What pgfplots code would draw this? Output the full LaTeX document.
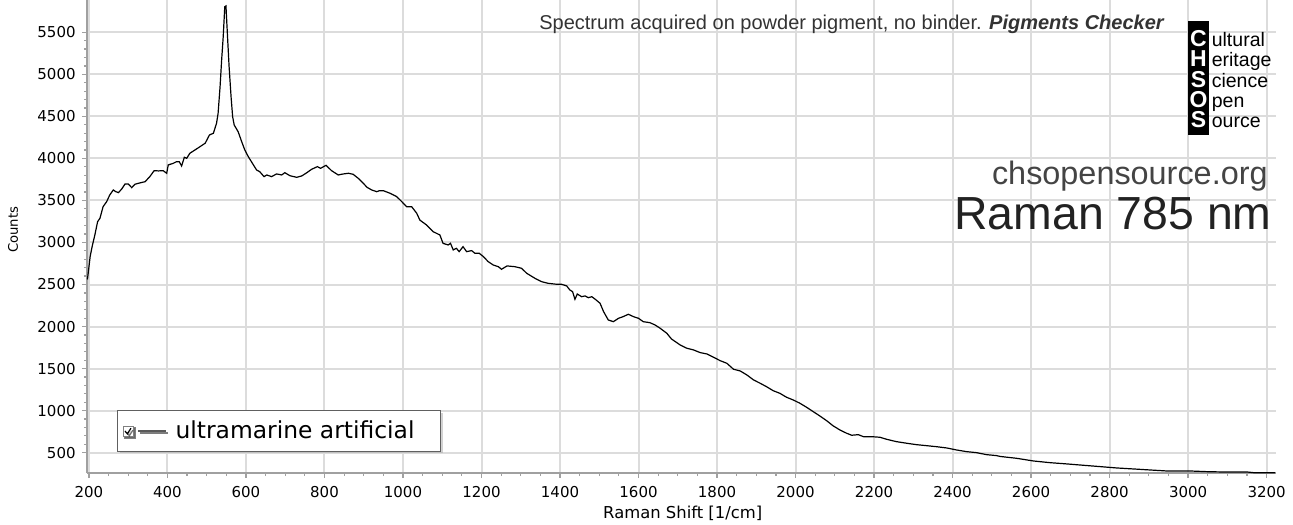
\documentclass[border=0pt]{standalone}
\usepackage{fontspec}
\setmainfont{DejaVu Sans}
\newfontfamily\arial{Liberation Sans}
\usepackage{pgfplots}
\pgfplotsset{compat=1.18}
\usetikzlibrary{shadows}
\definecolor{gridc}{HTML}{DCDCDC}
\definecolor{axc}{HTML}{A0A0A0}
\definecolor{txtA}{HTML}{333333}
\definecolor{txtB}{HTML}{444444}
\definecolor{txtC}{HTML}{222222}
\definecolor{legb}{HTML}{606060}

\pgfplotstableread{
x y
196 2560
197 2593
203 2831
208 2950
215 3089
222 3247
228 3288
236 3426
245 3485
253 3565
262 3625
268 3605
275 3593
283 3633
292 3696
300 3696
309 3652
317 3692
326 3704
343 3723
355 3783
366 3854
377 3851
389 3854
398 3823
402 3922
415 3942
423 3961
430 3961
436 3910
443 4013
449 4001
457 4061
470 4100
483 4140
496 4180
507 4279
517 4299
525 4418
529 4537
534 4853
538 5170
542 5448
546 5804
549 5813
553 5448
557 5091
562 4734
566 4496
570 4397
580 4318
589 4200
597 4100
606 4020
619 3922
627 3862
635 3842
646 3783
653 3803
665 3783
678 3815
691 3803
699 3830
712 3794
729 3775
742 3791
755 3830
767 3870
782 3902
790 3882
804 3918
818 3854
835 3803
848 3815
861 3823
873 3811
886 3763
899 3704
908 3657
920 3625
933 3604
940 3616
950 3616
967 3585
984 3545
997 3485
1009 3426
1022 3426
1035 3347
1043 3266
1060 3208
1077 3128
1094 3089
1102 2990
1115 2970
1121 2990
1128 2911
1136 2931
1143 2891
1153 2950
1162 2891
1175 2903
1183 2872
1194 2872
1205 2831
1217 2772
1230 2732
1243 2712
1251 2681
1265 2721
1285 2712
1302 2693
1315 2634
1336 2574
1353 2534
1370 2514
1391 2503
1404 2503
1417 2483
1425 2435
1432 2415
1438 2324
1444 2387
1455 2355
1464 2364
1472 2343
1481 2355
1492 2316
1502 2277
1511 2177
1523 2078
1536 2058
1549 2098
1561 2118
1574 2146
1587 2118
1600 2098
1612 2058
1629 2046
1642 2019
1655 1980
1672 1920
1684 1852
1706 1781
1723 1742
1740 1722
1757 1690
1774 1674
1791 1635
1808 1594
1825 1563
1842 1492
1859 1472
1876 1424
1893 1365
1910 1325
1926 1285
1943 1237
1960 1206
1977 1159
1994 1127
2011 1088
2028 1040
2045 988
2062 936
2079 881
2096 818
2113 770
2130 731
2143 707
2160 714
2173 690
2194 690
2215 683
2232 659
2257 631
2283 612
2308 595
2334 583
2359 571
2385 556
2410 532
2436 512
2461 500
2487 476
2512 465
2521 455
2563 433
2606 401
2648 381
2691 366
2733 350
2776 334
2818 318
2861 306
2903 294
2946 282
3005 282
3048 274
3090 270
3150 270
3167 262
3222 260
}\spectrum

\begin{document}
\begin{tikzpicture}
\begin{axis}[
  at={(43.5pt,25.5pt)}, anchor=south west,
  scale only axis, width=594.5pt, height=236.5pt,
  xmin=195, xmax=3224, ymin=258, ymax=5884,
  axis x line=bottom, axis y line=left,
  axis line style={-, draw=axc, line width=1pt},
  xtick={200,400,...,3200}, ytick={500,1000,...,5500},
  minor x tick num=3, minor y tick num=4,
  tick align=outside, major tick length=2.5pt, minor tick length=1.5pt,
  tick style={draw=axc, line width=0.6pt},
  grid=major, major grid style={draw=gridc, line width=1pt},
  /pgf/number format/assume math mode=true,
  /pgf/number format/set thousands separator={},
  ticklabel style={font=\fontsize{7.5}{9}\selectfont, text=black},
  xticklabel style={anchor=north, inner sep=0pt, yshift=-4pt},
  yticklabel style={anchor=east, inner sep=0pt, xshift=-3pt},
  xlabel={Raman Shift [1/cm]},
  ylabel={Counts},
  xlabel style={at={(axis description cs:0.501,0)}, anchor=base, yshift=-22.5pt, inner sep=0pt, font=\fontsize{8.2}{10}\selectfont},
  ylabel style={at={(axis description cs:0,0.514)}, anchor=base, yshift=34.5pt, inner sep=0pt, font=\fontsize{6.6}{8}\selectfont},
  legend style={at={(rel axis cs:0.0252,0.0444)}, anchor=south west,
    draw=legb, fill=white, line width=0.6pt, inner xsep=2.5pt, inner ysep=3pt,
    font=\fontsize{11.7}{14}\selectfont,
    drop shadow={shadow xshift=1pt, shadow yshift=-1pt, fill=black!35},
    cells={anchor=west}},
  legend image code/.code={
    \draw[draw=gray, fill=white, line width=0.4pt] (0pt,-2.5pt) rectangle (5pt,2.5pt);
    \draw[black, line width=0.6pt] (1pt,0pt) -- (2.2pt,-1.4pt) -- (4pt,1.4pt);
    \draw[draw=black!65, line width=0.6pt] (7.5pt,0pt) -- (21.5pt,0pt);
  },
]
\addplot[black, line width=0.6pt] table[x=x, y=y] {\spectrum};
\addlegendentry{\hspace*{2.5pt}ultramarine artificial\hspace*{8.5pt}}
\end{axis}

\node[font=\arial\fontsize{10}{12}\selectfont, text=txtA, anchor=east, inner sep=0pt] at (582.5pt,250pt)
  {Spectrum acquired on powder pigment, no binder. \textbf{\textit{Pigments Checker}}};
\node[font=\arial\fontsize{16.2}{19}\selectfont, text=txtB, anchor=base east, inner sep=0pt] at (634pt,169.5pt) {chsopensource.org};
\node[font=\arial\fontsize{23.2}{27}\selectfont, text=txtC, anchor=base east, inner sep=0pt] at (636pt,147pt) {Raman 785 nm};

\fill[black] (594pt,194.5pt) rectangle (604.5pt,251.5pt);
\foreach \L/\w/\yy in {C/ultural/238.5, H/eritage/228.5, S/cience/218, O/pen/208, S/ource/198} {
  \node[font=\arial\bfseries\fontsize{11.5}{12}\selectfont, text=white, anchor=base, inner sep=0pt] at (599.25pt,\yy pt) {\L};
  \node[font=\arial\fontsize{9.75}{10}\selectfont, text=black, anchor=base west, inner sep=0pt] at (605.7pt,\yy pt) {\w};
}

\pgfresetboundingbox
\useasboundingbox (0,0) rectangle (646.5pt,262pt);
\end{tikzpicture}
\end{document}
